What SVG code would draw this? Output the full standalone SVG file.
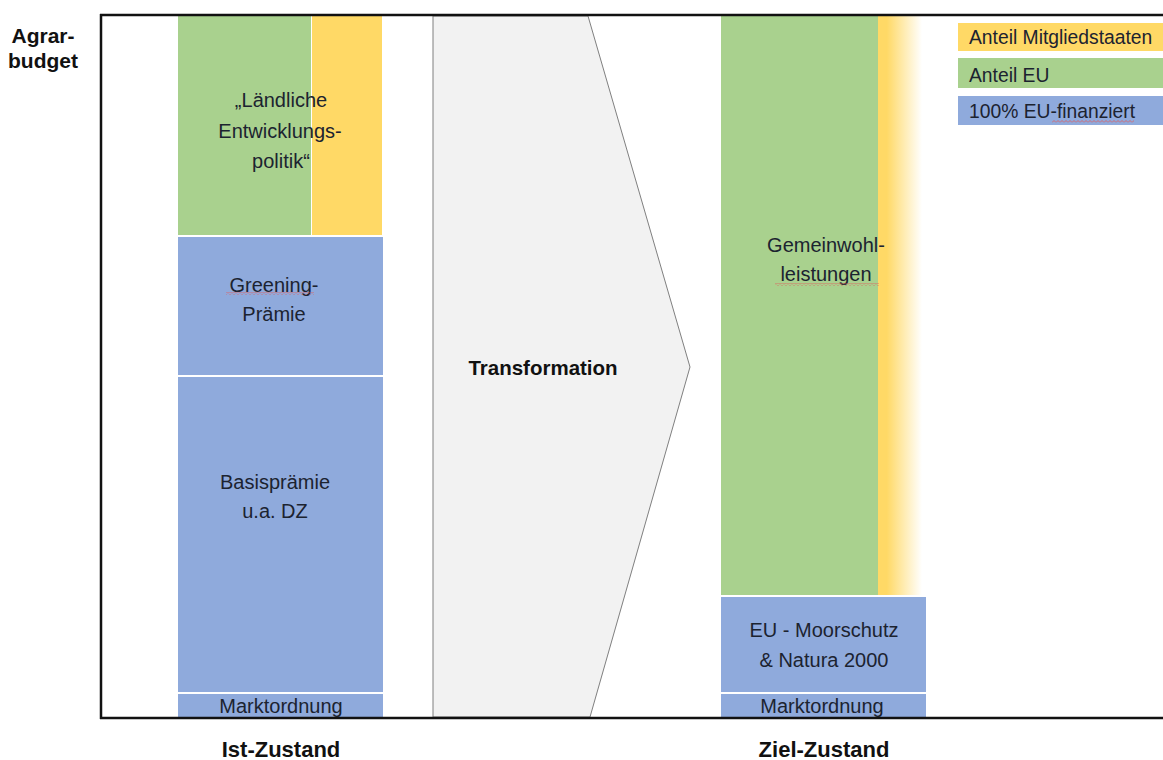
<svg xmlns="http://www.w3.org/2000/svg" width="1163" height="760" viewBox="0 0 1163 760">
<style>
.lbl{font-family:"Liberation Sans",Arial,sans-serif;font-size:20px;fill:#1c2330;text-anchor:middle}
.leg{font-family:"Liberation Sans",Arial,sans-serif;font-size:19.3px;fill:#1c2330}
.hd{font-family:"Liberation Sans",Arial,sans-serif;font-weight:bold;fill:#111;text-anchor:middle}
.green{fill:#a9d18e}
.yellow{fill:#ffd966}
.blue{fill:#8faadc}
.axis{stroke:#111;stroke-width:2.5;fill:none}
</style>
<defs>
<linearGradient id="fade" x1="0" y1="0" x2="1" y2="0">
<stop offset="0" stop-color="#ffd966"/>
<stop offset="0.2" stop-color="#ffd966"/>
<stop offset="1" stop-color="#ffffff"/>
</linearGradient>
<pattern id="squig" width="4" height="3" patternUnits="userSpaceOnUse">
<path d="M0 2.5 L2 0.5 L4 2.5" stroke="#e05a5a" stroke-width="0.8" fill="none"/>
</pattern>
</defs>
<rect width="1163" height="760" fill="#ffffff"/>

<g id="transformation">
<polygon points="433,16 588,16 690,367 590,717 433,717" fill="#f2f2f2" stroke="#7f7f7f" stroke-width="1"/>
<text class="hd" x="543" y="375" font-size="20.5">Transformation</text>
</g>

<g id="laendliche">
<rect class="green" x="178" y="16" width="133" height="219"/>
<rect class="yellow" x="312" y="16" width="70" height="219"/>
<text class="lbl" x="281" y="107">„Ländliche</text>
<text class="lbl" x="280" y="138">Entwicklungs-</text>
<text class="lbl" x="281" y="168">politik“</text>
</g>

<g id="greening">
<rect class="blue" x="178" y="237" width="205" height="138"/>
<text class="lbl" x="274" y="292">Greening-</text>
<text class="lbl" x="274" y="321">Prämie</text>
<rect x="226" y="292" width="88" height="3" fill="url(#squig)"/>
</g>

<g id="basispraemie">
<rect class="blue" x="178" y="377" width="205" height="315"/>
<text class="lbl" x="275" y="489">Basisprämie</text>
<text class="lbl" x="275" y="518">u.a. DZ</text>
</g>

<g id="marktordnung-ist">
<rect class="blue" x="178" y="694" width="205" height="23"/>
<text class="lbl" x="281" y="713">Marktordnung</text>
</g>

<g id="gemeinwohl">
<rect class="green" x="721" y="16" width="157" height="579"/>
<rect x="878" y="16" width="44" height="579" fill="url(#fade)"/>
<text class="lbl" x="826" y="252">Gemeinwohl-</text>
<text class="lbl" x="826" y="281">leistungen</text>
<rect x="775" y="283" width="104" height="3" fill="url(#squig)"/>
</g>

<g id="moorschutz">
<rect class="blue" x="721" y="597" width="205" height="95"/>
<text class="lbl" x="824" y="637">EU - Moorschutz</text>
<text class="lbl" x="824" y="667">&amp; Natura 2000</text>
</g>

<g id="marktordnung-ziel">
<rect class="blue" x="721" y="694" width="205" height="23"/>
<text class="lbl" x="822" y="713">Marktordnung</text>
</g>

<g id="legend">
<rect class="yellow" x="958" y="23" width="205" height="28"/>
<text class="leg" x="969" y="44">Anteil Mitgliedstaaten</text>
<rect class="green" x="958" y="58" width="205" height="30"/>
<text class="leg" x="969" y="82">Anteil EU</text>
<rect class="blue" x="958" y="96" width="205" height="29"/>
<text class="leg" x="969" y="118">100% EU-finanziert</text>
<rect x="1052" y="120" width="82" height="3" fill="url(#squig)"/>
</g>

<g id="connectors">
<path class="axis" d="M100 15 H1163"/>
<path class="axis" d="M101 14 V719"/>
<path class="axis" d="M100 718 H1163"/>
</g>

<g id="titles">
<text class="hd" x="43" y="43" font-size="21">Agrar-</text>
<text class="hd" x="43" y="68" font-size="21">budget</text>
<text class="hd" x="281" y="757" font-size="22">Ist-Zustand</text>
<text class="hd" x="824" y="757" font-size="22">Ziel-Zustand</text>
</g>
</svg>
